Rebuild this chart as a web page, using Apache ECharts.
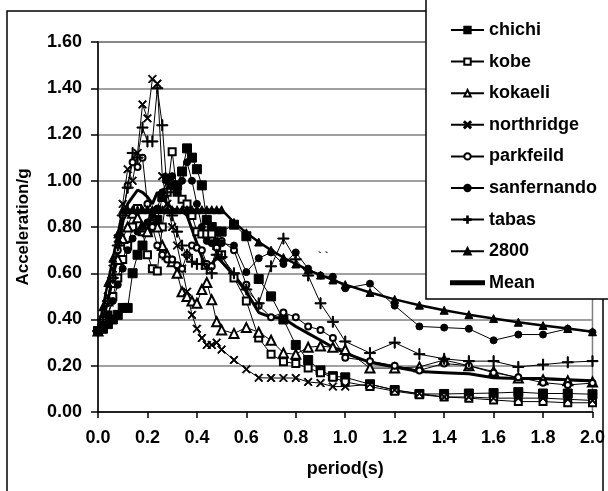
<!DOCTYPE html>
<html>
<head>
<meta charset="utf-8">
<script src="https://cdn.jsdelivr.net/npm/echarts@6/dist/echarts.min.js"></script>
<style>
  html, body { margin: 0; padding: 0; background: #fff; }
  #chart { width: 608px; height: 491px; }
</style>
</head>
<body>
<div id="chart"></div>
<script>
// period grid (s)
var periods = [0, 0.02, 0.04, 0.06, 0.08, 0.10, 0.12, 0.14, 0.16, 0.18, 0.20, 0.22, 0.24, 0.26, 0.28,
  0.30, 0.32, 0.34, 0.36, 0.38, 0.40, 0.42, 0.44, 0.46, 0.48, 0.50,
  0.55, 0.60, 0.65, 0.70, 0.75, 0.80, 0.85, 0.90, 0.95, 1.0,
  1.1, 1.2, 1.3, 1.4, 1.5, 1.6, 1.7, 1.8, 1.9, 2.0];

var chichi = [0.35, 0.36, 0.38, 0.40, 0.42, 0.45, 0.45, 0.60, 0.68, 0.72, 0.78, 0.80, 0.83, 0.93, 1.01,
  0.98, 0.98, 1.04, 1.14, 1.10, 1.05, 0.98, 0.83, 0.80, 0.78, 0.78,
  0.81, 0.76, 0.575, 0.50, 0.40, 0.29, 0.225, 0.18, 0.155, 0.15,
  0.12, 0.095, 0.078, 0.078, 0.08, 0.082, 0.086, 0.08, 0.08, 0.077];
var kobe = [0.35, 0.38, 0.42, 0.50, 0.58, 0.66, 0.72, 0.80, 0.88, 0.78, 0.68, 0.62, 0.61, 0.80, 0.95,
  1.125, 0.95, 0.92, 0.90, 0.85, 0.78, 0.77, 0.77, 0.77, 0.72, 0.68,
  0.58, 0.48, 0.32, 0.25, 0.217, 0.21, 0.19, 0.17, 0.15, 0.13,
  0.11, 0.09, 0.075, 0.065, 0.06, 0.052, 0.045, 0.045, 0.04, 0.04];
var kokaeli = [0.35, 0.40, 0.48, 0.56, 0.66, 0.75, 0.80, 0.86, 0.84, 0.80, 0.78, 0.85, 0.80, 0.72, 0.68,
  0.65, 0.60, 0.52, 0.50, 0.48, 0.47, 0.53, 0.56, 0.485, 0.39, 0.355,
  0.34, 0.365, 0.345, 0.31, 0.255, 0.25, 0.28, 0.285, 0.28, 0.27,
  0.19, 0.19, 0.195, 0.225, 0.20, 0.175, 0.147, 0.14, 0.135, 0.13];
var northridge = [0.35, 0.40, 0.50, 0.62, 0.75, 0.90, 1.05, 1.00, 1.12, 1.33, 1.27, 1.44, 1.42, 1.02, 0.90,
  0.80, 0.72, 0.62, 0.52, 0.42, 0.36, 0.32, 0.29, 0.29, 0.30, 0.27,
  0.225, 0.185, 0.148, 0.147, 0.147, 0.147, 0.13, 0.125, 0.11, 0.11,
  0.12, 0.095, 0.08, 0.065, 0.065, 0.06, 0.06, 0.06, 0.055, 0.05];
var parkfeild = [0.35, 0.40, 0.48, 0.58, 0.70, 0.85, 0.98, 1.08, 1.06, 1.10, 0.90, 0.80, 0.72, 0.68, 0.66,
  0.66, 0.635, 0.62, 0.68, 0.72, 0.71, 0.70, 0.64, 0.63, 0.71, 0.74,
  0.70, 0.55, 0.46, 0.41, 0.43, 0.41, 0.37, 0.355, 0.32, 0.235,
  0.22, 0.20, 0.18, 0.21, 0.20, 0.17, 0.15, 0.127, 0.117, 0.125];
var sanfernando = [0.35, 0.38, 0.42, 0.48, 0.55, 0.62, 0.70, 0.75, 0.78, 0.80, 0.82, 0.85, 0.88, 0.95, 1.00,
  1.02, 0.95, 1.00, 1.08, 1.00, 0.90, 0.80, 0.74, 0.73, 0.74, 0.73,
  0.72, 0.605, 0.665, 0.69, 0.64, 0.69, 0.62, 0.59, 0.585, 0.535,
  0.555, 0.46, 0.37, 0.365, 0.36, 0.31, 0.335, 0.335, 0.36, 0.345];
var tabas = [0.35, 0.40, 0.48, 0.58, 0.72, 0.85, 0.97, 1.12, 1.10, 1.23, 1.17, 1.17, 1.40, 1.24, 0.95,
  0.85, 0.78, 0.72, 0.68, 0.65, 0.64, 0.64, 0.62, 0.60, 0.68, 0.67,
  0.60, 0.53, 0.47, 0.63, 0.75, 0.66, 0.59, 0.47, 0.39, 0.305,
  0.255, 0.30, 0.25, 0.23, 0.22, 0.22, 0.195, 0.205, 0.215, 0.22];
var code2800 = [0.35, 0.455, 0.56, 0.665, 0.77, 0.875, 0.875, 0.875, 0.875, 0.875, 0.875, 0.875, 0.875, 0.875, 0.875,
  0.875, 0.875, 0.875, 0.875, 0.875, 0.875, 0.875, 0.875, 0.875, 0.875, 0.875,
  0.82, 0.775, 0.735, 0.70, 0.668, 0.64, 0.615, 0.592, 0.571, 0.551,
  0.517, 0.487, 0.462, 0.44, 0.421, 0.404, 0.388, 0.374, 0.361, 0.347];
var mean = [0.35, 0.40, 0.48, 0.58, 0.70, 0.82, 0.90, 0.93, 0.96, 0.95, 0.93, 0.90, 0.95, 0.93, 0.90,
  0.88, 0.87, 0.87, 0.85, 0.79, 0.73, 0.67, 0.62, 0.64, 0.67, 0.65,
  0.59, 0.52, 0.43, 0.41, 0.405, 0.37, 0.34, 0.31, 0.28, 0.255,
  0.215, 0.195, 0.175, 0.17, 0.165, 0.148, 0.145, 0.145, 0.14, 0.135];

var fontFam = '"Liberation Sans", Arial, sans-serif';
var crossPath = 'path://M1,0L5,4L9,0L10,1L6,5L10,9L9,10L5,6L1,10L0,9L4,5L0,1Z';
var plusPath = 'path://M4.5,0H5.5V4.5H10V5.5H5.5V10H4.5V5.5H0V4.5H4.5Z';
var barPath = 'path://M0,0H100V9H0Z';

function pairs(arr) {
  return periods.map(function (t, i) { return [t, arr[i]]; });
}

function makeSeries(name, arr, symbol, size, width) {
  return {
    name: name,
    type: 'line',
    data: pairs(arr),
    symbol: symbol,
    symbolSize: size,
    showSymbol: symbol !== 'none',
    lineStyle: { color: '#000', width: width },
    itemStyle: { color: '#000', borderColor: '#000', borderWidth: 1 },
    emphasis: { disabled: true },
    z: 3
  };
}

var chart = echarts.init(document.getElementById('chart'), null, { renderer: 'canvas' });

var option = {
  animation: false,
  backgroundColor: '#fff',
  grid: {
    left: 98, top: 42, width: 500, height: 370,
    show: true, borderColor: '#808080', borderWidth: 1.5, backgroundColor: 'transparent'
  },
  xAxis: {
    type: 'value', min: 0, max: 2, interval: 0.2,
    name: 'period(s)', nameLocation: 'middle', nameGap: 48,
    nameTextStyle: { color: '#000', fontFamily: fontFam, fontWeight: 'bold', fontSize: 18 },
    axisLine: { show: true, lineStyle: { color: '#000', width: 1.5 } },
    axisTick: { show: true, length: 6, lineStyle: { color: '#000', width: 1.5 } },
    axisLabel: {
      color: '#000', fontFamily: fontFam, fontWeight: 'bold', fontSize: 18, margin: 17,
      formatter: function (v) { return v.toFixed(1); }
    },
    splitLine: { show: false }
  },
  yAxis: {
    type: 'value', min: 0, max: 1.6, interval: 0.2,
    name: 'Acceleration/g', nameLocation: 'middle', nameGap: 66,
    nameTextStyle: { color: '#000', fontFamily: fontFam, fontWeight: 'bold', fontSize: 17 },
    axisLine: { show: true, lineStyle: { color: '#000', width: 1.5 } },
    axisTick: { show: true, length: 7, lineStyle: { color: '#000', width: 1.5 } },
    axisLabel: {
      color: '#000', fontFamily: fontFam, fontWeight: 'bold', fontSize: 18, margin: 16,
      formatter: function (v) { return v.toFixed(2); }
    },
    splitLine: { show: true, lineStyle: { color: '#808080', width: 1.5 } }
  },
  legend: {
    orient: 'vertical', left: 445, top: 16, z: 20,
    itemWidth: 33, itemHeight: 8, itemGap: 13.6,
    textStyle: { color: '#000', fontFamily: fontFam, fontWeight: 'bold', fontSize: 18 },
    selectedMode: false,
    data: ['chichi', 'kobe', 'kokaeli', 'northridge', 'parkfeild', 'sanfernando', 'tabas', '2800',
      { name: 'Mean', icon: barPath }]
  },
  graphic: [
    {
      type: 'rect', z: -1, silent: true,
      shape: { x: 7, y: 11, width: 596, height: 500 },
      style: { fill: 'none', stroke: '#000', lineWidth: 1.5 }
    },
    {
      type: 'rect', z: 15, silent: true,
      shape: { x: 426, y: -10, width: 200, height: 309 },
      style: { fill: '#fff', stroke: '#000', lineWidth: 1.5 }
    },
    {
      type: 'text', z: 5, silent: true, left: 318, top: 250,
      style: { text: '` `', fill: '#000', font: 'bold 11px ' + fontFam }
    }
  ],
  series: [
    makeSeries('chichi', chichi, 'rect', 9, 1),
    makeSeries('kobe', kobe, 'emptyRect', 7, 1),
    makeSeries('kokaeli', kokaeli, 'emptyTriangle', 9, 1),
    makeSeries('northridge', northridge, crossPath, 8, 1),
    makeSeries('parkfeild', parkfeild, 'emptyCircle', 6, 1),
    makeSeries('sanfernando', sanfernando, 'circle', 7, 1),
    makeSeries('tabas', tabas, plusPath, 11, 1),
    makeSeries('2800', code2800, 'triangle', 8, 2.5),
    makeSeries('Mean', mean, 'none', 0, 3)
  ]
};

chart.setOption(option);
</script>
</body>
</html>
